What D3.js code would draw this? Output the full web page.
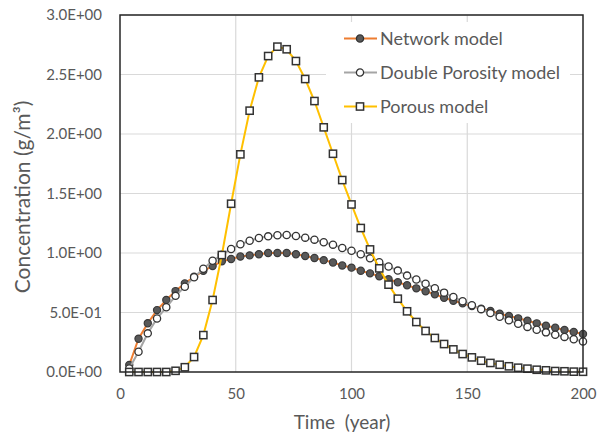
<!DOCTYPE html>
<html>
<head>
    <meta charset="utf-8">
    <title></title>
    <script src="https://d3js.org/d3.v7.min.js"></script>
    <style>
        body { margin: 0; background: #fff; }
        text { font-family: Lato, "Liberation Sans", sans-serif; fill: #595959; }
    </style>
</head>
<body>

    <svg id="chart" width="601" height="432"></svg>

    <script>

    // time (year)
    var years = [4, 8, 12, 16, 20, 24, 28, 32, 36, 40, 44, 48, 52, 56, 60, 64, 68, 72, 76, 80,
                 84, 88, 92, 96, 100, 104, 108, 112, 116, 120, 124, 128, 132, 136, 140, 144, 148, 152, 156, 160,
                 164, 168, 172, 176, 180, 184, 188, 192, 196, 200];

    var network = [0.059, 0.28, 0.41, 0.52, 0.605, 0.68, 0.745, 0.80, 0.85, 0.89, 0.93, 0.95, 0.97, 0.98, 0.99, 1.0, 1.0, 1.0, 0.99, 0.975,
                   0.958, 0.94, 0.92, 0.895, 0.877, 0.851, 0.829, 0.804, 0.779, 0.754, 0.729, 0.703, 0.678, 0.653, 0.624, 0.599, 0.577, 0.555, 0.532, 0.513,
                   0.49, 0.47, 0.451, 0.431, 0.409, 0.389, 0.372, 0.353, 0.336, 0.319];

    var doublePorosity = [0.03, 0.17, 0.325, 0.45, 0.544, 0.64, 0.717, 0.796, 0.868, 0.935, 0.985, 1.034, 1.073, 1.103, 1.126, 1.14, 1.149, 1.151, 1.143, 1.129,
                          1.112, 1.09, 1.07, 1.042, 1.019, 0.989, 0.955, 0.922, 0.887, 0.852, 0.81, 0.777, 0.742, 0.704, 0.667, 0.63, 0.595, 0.561, 0.528, 0.495,
                          0.464, 0.434, 0.405, 0.379, 0.355, 0.333, 0.313, 0.295, 0.275, 0.257];

    var porous = [0, 0, 0, 0, 0, 0.01, 0.04, 0.126, 0.31, 0.605, 0.983, 1.414, 1.829, 2.196, 2.476, 2.655, 2.734, 2.712, 2.613, 2.462,
                  2.277, 2.056, 1.834, 1.613, 1.408, 1.21, 1.03, 0.871, 0.734, 0.616, 0.51, 0.42, 0.345, 0.286, 0.235, 0.19, 0.151, 0.123, 0.095, 0.076,
                  0.061, 0.048, 0.036, 0.028, 0.019, 0.014, 0.008, 0.006, 0.003, 0.002];

    var xTicks = [0, 50, 100, 150, 200];
    var yTicks = [0, 0.5, 1, 1.5, 2, 2.5, 3];
    var yTickLabels = ["0.0E+00", "5.0E-01", "1.0E+00", "1.5E+00", "2.0E+00", "2.5E+00", "3.0E+00"];

    var seriesNames = ["Network model", "Double Porosity model", "Porous model"];

    var L = 120, R = 583, T = 15, B = 372;
    var xSc = d3.scaleLinear().domain([0, 200]).range([L, R]);
    var ySc = d3.scaleLinear().domain([0, 3]).range([B, T]);

    let svg = d3.select("#chart");

    // grid
    let grid = svg.append("g");
    grid.selectAll("line.h").data(yTicks.slice(1)).enter().append("line")
        .attr("x1", L).attr("x2", R).attr("y1", d => ySc(d)).attr("y2", d => ySc(d))
        .attr("stroke", "#d9d9d9").attr("stroke-width", 1.2);
    grid.selectAll("line.v").data(xTicks.slice(1, -1)).enter().append("line")
        .attr("x1", d => xSc(d)).attr("x2", d => xSc(d)).attr("y1", T).attr("y2", B)
        .attr("stroke", "#d9d9d9").attr("stroke-width", 1.2);

    // axes (labels only, no tick marks)
    let yAxis = d3.axisLeft(ySc).tickValues(yTicks).tickSize(0).tickPadding(18)
        .tickFormat((d, i) => yTickLabels[i]);
    svg.append("g").attr("transform", "translate(" + L + ",0)").call(yAxis)
        .call(g => g.select(".domain").remove())
        .selectAll("text").style("font-family", "Lato, 'Liberation Sans', sans-serif")
        .attr("font-size", 15).attr("fill", "#595959");

    let xAxis = d3.axisBottom(xSc).tickValues(xTicks).tickSize(0).tickPadding(16);
    svg.append("g").attr("transform", "translate(0," + B + ")").call(xAxis)
        .call(g => g.select(".domain").remove())
        .selectAll("text").style("font-family", "Lato, 'Liberation Sans', sans-serif")
        .attr("font-size", 15).attr("fill", "#595959");

    // axis titles
    svg.append("text").attr("x", 342).attr("y", 429).attr("text-anchor", "middle")
        .attr("font-size", 19).text("Time  (year)").attr("xml:space", "preserve");
    svg.append("text").attr("transform", "translate(30,197) rotate(-90)").attr("text-anchor", "middle")
        .attr("font-size", 21).text("Concentration (g/m\u00b3)");

    // series
    var lnMkr = d3.line().x((d, i) => xSc(years[i])).y(d => ySc(d)).curve(d3.curveLinear);

    function drawSeries(vals, lineColor, marker) {
        let g = svg.append("g");
        g.append("path").attr("d", lnMkr(vals)).attr("fill", "none")
            .attr("stroke", lineColor).attr("stroke-width", 2);
        let pts = g.selectAll(".pt").data(vals).enter();
        if (marker == "filled") {
            pts.append("circle").attr("cx", (d, i) => xSc(years[i])).attr("cy", d => ySc(d)).attr("r", 3.6)
                .attr("fill", "#595959").attr("stroke", "#3a3a3a").attr("stroke-width", 1.2);
        } else if (marker == "open") {
            pts.append("circle").attr("cx", (d, i) => xSc(years[i])).attr("cy", d => ySc(d)).attr("r", 3.6)
                .attr("fill", "#fff").attr("stroke", "#333").attr("stroke-width", 1.3);
        } else {
            pts.append("rect").attr("x", (d, i) => xSc(years[i]) - 3.6).attr("y", d => ySc(d) - 3.6)
                .attr("width", 7.2).attr("height", 7.2)
                .attr("fill", "#fff").attr("stroke", "#333").attr("stroke-width", 1.5);
        }
    }

    // legend background sits under the series but over the grid
    svg.append("rect").attr("x", 326).attr("y", 22).attr("width", 244).attr("height", 101).attr("fill", "#fff");

    drawSeries(network, "#ed7d31", "filled");
    drawSeries(doublePorosity, "#a5a5a5", "open");
    drawSeries(porous, "#ffc000", "square");

    // frame
    svg.append("rect").attr("x", L).attr("y", T).attr("width", R - L).attr("height", B - T)
        .attr("fill", "none").attr("stroke", "#262626").attr("stroke-width", 1.5);

    // legend
    var legColors = ["#ed7d31", "#a5a5a5", "#ffc000"];
    var legMarkers = ["filled", "open", "square"];
    let leg = svg.append("g").selectAll("g").data(seriesNames).enter().append("g")
        .attr("transform", (d, i) => "translate(344," + (38.5 + i * 34) + ")");
    leg.append("line").attr("x1", 0).attr("x2", 33).attr("stroke", (d, i) => legColors[i]).attr("stroke-width", 2);
    leg.each(function (d, i) {
        let s = d3.select(this);
        if (legMarkers[i] == "square") {
            s.append("rect").attr("x", 12.4).attr("y", -3.6).attr("width", 7.2).attr("height", 7.2)
                .attr("fill", "#fff").attr("stroke", "#333").attr("stroke-width", 1.5);
        } else {
            s.append("circle").attr("cx", 16).attr("r", 3.6)
                .attr("fill", legMarkers[i] == "filled" ? "#595959" : "#fff")
                .attr("stroke", "#333").attr("stroke-width", 1.3);
        }
    });
    leg.append("text").attr("x", 36).attr("dy", "0.36em").attr("font-size", 18).text(d => d);

    </script>

</body></html>
